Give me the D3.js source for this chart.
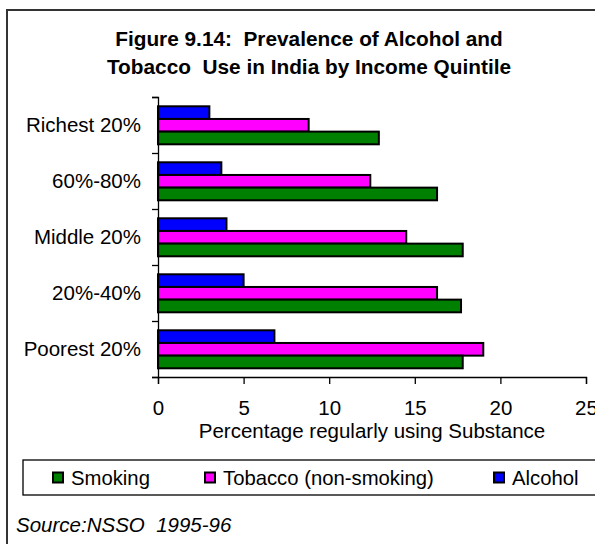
<!DOCTYPE html>
<html><head><meta charset="utf-8">
<script src="https://cdn.jsdelivr.net/npm/d3@7/dist/d3.min.js"></script>
<style>
body{margin:0;background:#fff;}
text{font-family:"Liberation Sans",Arial,sans-serif;fill:#000;}
</style></head>
<body><svg id="c" width="595" height="544"></svg>
<script>
const categories = ["Richest 20%", "60%-80%", "Middle 20%", "20%-40%", "Poorest 20%"];
const alcohol = [3.0, 3.7, 4.0, 5.0, 6.8];
const tobacco = [8.8, 12.4, 14.5, 16.3, 19.0];
const smoking = [12.9, 16.3, 17.8, 17.7, 17.8];
const seriesNames = ["Alcohol", "Tobacco (non-smoking)", "Smoking"];
const legendOrder = ["Smoking", "Tobacco (non-smoking)", "Alcohol"];
const xTicks = [0, 5, 10, 15, 20, 25];
const titleLines = ["Figure 9.14:  Prevalence of Alcohol and", "Tobacco  Use in India by Income Quintile"];
const xTitle = "Percentage regularly using Substance";
const sourceText = "Source:NSSO  1995-96";

const colors = {"Alcohol":"#0000FF","Tobacco (non-smoking)":"#FF00FF","Smoking":"#008000"};
const values = {"Alcohol":alcohol,"Tobacco (non-smoking)":tobacco,"Smoking":smoking};

const svg = d3.select("#c");
// outer frame
svg.append("rect").attr("x",7).attr("y",10).attr("width",610).attr("height",560)
  .attr("fill","none").attr("stroke","#333").attr("stroke-width",2);

// title
svg.selectAll("text.title").data(titleLines).join("text")
  .attr("x",309).attr("y",(d,i)=>46+i*27.5).attr("text-anchor","middle")
  .attr("font-weight","bold").attr("font-size","20.8px").style("white-space","pre")
  .text(d=>d);

const x = d3.scaleLinear().domain([0,25]).range([158,586]);
const y = d3.scaleBand().domain(categories).range([97,377]);
const ySub = d3.scaleBand().domain(seriesNames).range([9.3,47.3]);

// bars
categories.forEach((c,i)=>{
  const g = svg.append("g");
  g.selectAll("rect").data(seriesNames).join("rect")
    .attr("x",x(0))
    .attr("y",s=>y(c)+ySub(s))
    .attr("width",s=>x(values[s][i])-x(0))
    .attr("height",ySub.bandwidth())
    .attr("fill",s=>colors[s]).attr("stroke","#000").attr("stroke-width",2);
});

// x axis
const xa = svg.append("g").attr("transform","translate(0,377)")
  .call(d3.axisBottom(x).tickValues(xTicks).tickSize(7).tickFormat(d3.format("d")));
xa.select(".domain").attr("stroke","#000").attr("stroke-width",1.3);
xa.selectAll(".tick line").attr("stroke","#000").attr("stroke-width",1.3);
xa.selectAll(".tick text").attr("y",38).attr("dy",null).attr("font-size","20.5px")
  .attr("font-family","Liberation Sans, Arial, sans-serif").attr("fill","#000");

// y axis with ticks at band boundaries
const yb = d3.scaleLinear().domain([0,categories.length]).range([377,97]);
const ya = svg.append("g").attr("transform","translate(158,0)")
  .call(d3.axisLeft(yb).ticks(categories.length).tickSize(6).tickFormat(""));
ya.select(".domain").attr("stroke","#000").attr("stroke-width",1.3);
ya.selectAll(".tick line").attr("stroke","#000").attr("stroke-width",1.3);

// category labels
svg.selectAll("text.cat").data(categories).join("text")
  .attr("x",141).attr("y",d=>y(d)+y.bandwidth()/2+7)
  .attr("text-anchor","end").attr("font-size","20.5px").text(d=>d);

// x axis title
svg.append("text").attr("x",372).attr("y",438).attr("text-anchor","middle")
  .attr("font-size","20.5px").text(xTitle);

// legend
svg.append("rect").attr("x",23).attr("y",460).attr("width",600).attr("height",35)
  .attr("fill","#fff").attr("stroke","#000").attr("stroke-width",1.3);
const legX = [52, 204, 493];
legendOrder.forEach((s,i)=>{
  svg.append("rect").attr("x",legX[i]+1).attr("y",472.5).attr("width",10).attr("height",10)
    .attr("fill",colors[s]).attr("stroke","#000").attr("stroke-width",2);
  svg.append("text").attr("x",legX[i]+19).attr("y",485).attr("font-size","20.3px").text(s);
});

// source
svg.append("text").attr("x",16).attr("y",531.5).attr("font-size","20.5px")
  .attr("font-style","italic").style("white-space","pre").text(sourceText);
</script></body></html>
